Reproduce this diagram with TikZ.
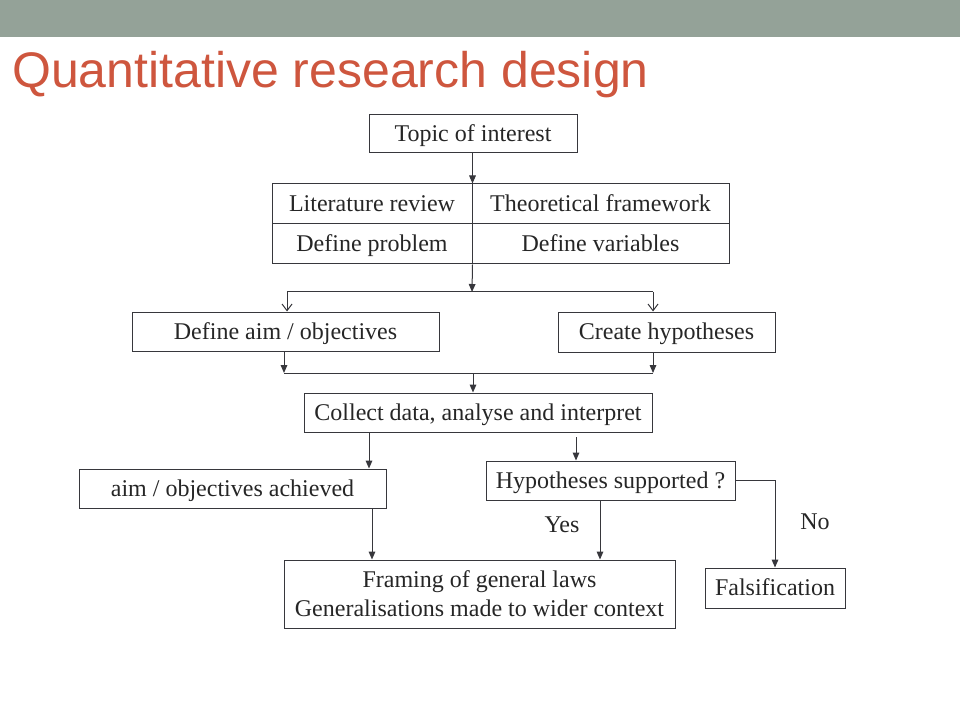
\documentclass[tikz,border=0pt]{standalone}
\usepackage{fontspec}
\setmainfont{Liberation Serif}
\newfontfamily\titlefont{Liberation Sans}
\usetikzlibrary{arrows.meta}
\definecolor{headbar}{RGB}{148,162,152}
\definecolor{titlered}{RGB}{206,86,62}
\definecolor{linegray}{RGB}{55,55,60}
\begin{document}
\begin{tikzpicture}[x=0.75pt,y=-0.75pt,
  boxbase/.style={draw=linegray,line width=0.75pt,inner sep=0pt,align=center,
    font=\fontsize{18}{21.75}\selectfont,text=black!85},
  box/.style={boxbase,text height=13.5pt,text depth=2pt},
  conn/.style={draw=linegray,line width=0.75pt},
  arr/.style={conn,-{Triangle[length=6pt,width=5pt]}},
  oarr/.style={conn,-{Straight Barb[length=5pt,width=7.5pt]}},
  lbl/.style={font=\fontsize{18}{21.75}\selectfont,text=black!85,inner sep=0pt}]
\useasboundingbox (0,0) rectangle (960,720);
\fill[headbar] (0,0) rectangle (960,37);
\node[anchor=base west,inner sep=0pt,text=titlered,font=\titlefont\fontsize{37.5}{40}\selectfont] (title) at (12,88) {Quantitative research design};

\node[box,minimum width=156pt,minimum height=28.5pt] (topic) at (473,134) {Topic of interest};
\node[box,minimum width=150pt,minimum height=30pt] (lit) at (372,204) {Literature review};
\node[box,minimum width=192.75pt,minimum height=30pt] (theo) at (600.5,204) {Theoretical framework};
\node[box,minimum width=150pt,minimum height=30pt] (prob) at (372,244) {Define problem};
\node[box,minimum width=192.75pt,minimum height=30pt] (vars) at (600.5,244) {Define variables};
\node[box,minimum width=230.25pt,minimum height=29.25pt] (aim) at (285.5,331.5) {Define aim / objectives};
\node[box,minimum width=162.75pt,minimum height=30pt] (hyp) at (666.5,332) {Create hypotheses};
\node[box,minimum width=261pt,minimum height=29.25pt] (collect) at (478,412.5) {Collect data, analyse and interpret};
\node[box,minimum width=230.25pt,minimum height=29.25pt] (achieved) at (232.5,488.5) {aim / objectives achieved};
\node[box,minimum width=186.75pt,minimum height=29.25pt] (hs) at (610.5,480.5) {Hypotheses supported ?};
\node[boxbase,minimum width=293.25pt,minimum height=51pt] (framing) at (479.5,594) {Framing of general laws\\Generalisations made to wider context};
\node[box,minimum width=105pt,minimum height=30pt] (fals) at (775,588) {Falsification};
\node[lbl] (yes) at (562,525) {Yes};
\node[lbl] (no) at (815,522) {No};

\coordinate (split) at (472,292);
\coordinate (sl) at (287,292);
\coordinate (sr) at (653,292);
\coordinate (ml) at (284,373);
\coordinate (mr) at (653,373);
\coordinate (mc) at (473,373);
\coordinate (c1) at (369,465);
\coordinate (c2) at (576,437);
\coordinate (c3) at (372,560);
\coordinate (c4) at (600,560);

\draw[arr] (topic.south -| lit.north east) -- (lit.north east);
\draw[conn] (lit.north east) -- (prob.south east);
\draw[arr] (prob.south east) -- (split);
\draw[conn] (sl) -- (sr);
\draw[oarr] (sl) -- (sl |- aim.north);
\draw[oarr] (sr) -- (sr |- hyp.north);
\draw[arr] (ml |- aim.south) -- (ml);
\draw[arr] (mr |- hyp.south) -- (mr);
\draw[conn] (ml) -- (mr);
\draw[arr] (mc) -- (mc |- collect.north);
\draw[arr] (collect.south -| c1) -- (c1 |- achieved.north);
\draw[arr] (c2) -- (c2 |- hs.north);
\draw[arr] (achieved.south -| c3) -- (c3 |- framing.north);
\draw[arr] (hs.south -| c4) -- (c4 |- framing.north);
\draw[arr] (hs.east) -| (fals.north);
\end{tikzpicture}
\end{document}
